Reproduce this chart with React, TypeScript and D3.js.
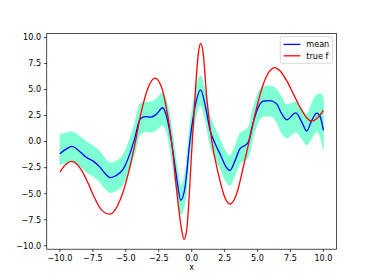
import { useMemo } from "react"
import * as d3 from "d3"

const gridX = [
  -10, -9.5, -9.1, -8.5, -8, -7.5, -7, -6.5, -6.2, -5.8, -5.2, -4.7, -4.3, -3.9, -3.5, -3.1, -2.7,
  -2.2, -1.9, -1.5, -1.15, -0.83, -0.5, -0.13, 0.25, 0.68, 1.0, 1.4, 1.8, 2.2, 2.55, 2.9, 3.3,
  3.67, 4.05, 4.3, 4.68, 5.06, 5.44, 5.95, 6.45, 6.8, 7.21, 7.9, 8.35, 8.73, 9.1, 9.5, 9.75, 10,
]
const meanY = [
  -1.16, -0.7, -0.46, -0.95, -1.5, -1.85, -2.4, -3.15, -3.46, -3.3, -2.65, -1.2, 0.43, 2.2, 2.4,
  2.35, 2.6, 3.25, 2.4, -0.3, -3.4, -5.63, -4.35, 0.11, 3.3, 4.96, 3.65, 1.07, -0.25, -1.3, -2.3,
  -2.76, -1.8, -0.68, -0.36, -0.05, 1.87, 3.3, 3.88, 3.94, 3.62, 2.75, 2.1, 2.75, 1.9, 1.0, 2.0,
  2.73, 2.4, 1.07,
]
const upperY = [
  0.65, 0.85, 0.95, 0.5, 0.0, -0.4, -0.9, -1.7, -2.05, -1.9, -1.25, 0.25, 1.9, 3.65, 3.8, 3.8,
  4.1, 4.7, 3.9, 1.2, -2.0, -4.2, -2.95, 1.5, 4.7, 6.3, 5.05, 2.5, 1.2, 0.1, -0.9, -1.35, -0.4,
  0.8, 1.1, 1.4, 3.3, 4.75, 5.3, 5.35, 5.0, 4.3, 3.55, 3.8, 3.2, 2.6, 3.6, 4.5, 4.6, 4.2,
]
const lowerY = [
  -2.2, -2.0, -1.85, -2.35, -2.95, -3.3, -3.85, -4.6, -4.9, -4.75, -4.1, -2.7, -1.05, 0.7, 0.95,
  0.9, 1.1, 1.6, 0.9, -1.8, -4.85, -7.0, -5.75, -1.3, 1.9, 3.5, 2.25, -0.35, -1.7, -2.7, -3.7,
  -4.2, -3.2, -2.1, -1.8, -1.5, 0.45, 1.85, 2.45, 2.45, 1.85, 0.9, 0.35, 0.9, 0.3, -0.3, 0.3,
  1.0, 0.5, -0.7,
]

// true function
const trueX = [
  -10, -9.6, -9.11, -8.35, -7.85, -7.34, -6.83, -6.2, -5.44, -4.81, -4.3, -3.8, -3.3, -2.79,
  -2.28, -2.03, -1.55, -1.14, -0.76, -0.58, -0.38, 0.0, 0.25, 0.5, 0.68, 0.88, 1.14, 1.52, 2.02,
  2.53, 2.91, 3.42, 3.92, 4.43, 4.94, 5.44, 5.95, 6.3, 6.7, 7.21, 7.72, 8.22, 8.73, 9.1, 9.48, 10,
]
const trueY = [
  -2.92, -2.25, -1.9, -2.76, -4.03, -5.47, -6.58, -6.97, -5.63, -3.07, -0.2, 2.99, 5.2, 6.1, 5.2,
  3.94, 0.3, -4.67, -8.5, -9.39, -8.5, -1.0, 4.26, 8.4, 9.43, 8.4, 4.26, 0.11, -3.07, -5.4, -6.0,
  -4.99, -2.44, 0.43, 3.3, 5.54, 6.81, 7.1, 6.81, 5.86, 4.58, 3.3, 2.29, 1.96, 2.19, 2.99,
]

const xTicks = [-10, -7.5, -5, -2.5, 0, 2.5, 5, 7.5, 10]
const yTicks = [-10, -7.5, -5, -2.5, 0, 2.5, 5, 7.5, 10]

const W = 374
const H = 280
const left = 46.75
const right = 336.6
const top = 33.6
const bottom = 249.2
const font = "DejaVu Sans, sans-serif"
const fs = 8.1

export default function App() {
  const { x, y, bandPath, meanPath, truePath } = useMemo(() => {
    // matplotlib style 5% margins
    const xs = d3.extent([...gridX, ...trueX]) as [number, number]
    const ys = d3.extent([...upperY, ...lowerY, ...trueY]) as [number, number]
    const px = (xs[1] - xs[0]) * 0.05
    const py = (ys[1] - ys[0]) * 0.05
    const x = d3.scaleLinear().domain([xs[0] - px, xs[1] + px]).range([left, right])
    const y = d3.scaleLinear().domain([ys[0] - py, ys[1] + py]).range([bottom, top])

    const band = d3
      .area<number>()
      .x((i) => x(gridX[i]))
      .y0((i) => y(lowerY[i]))
      .y1((i) => y(upperY[i]))
      .curve(d3.curveMonotoneX)
    const line = d3
      .line<[number, number]>()
      .x((d) => x(d[0]))
      .y((d) => y(d[1]))
      .curve(d3.curveMonotoneX)

    return {
      x,
      y,
      bandPath: band(d3.range(gridX.length)) ?? "",
      meanPath: line(gridX.map((v, i) => [v, meanY[i]])) ?? "",
      truePath: line(trueX.map((v, i) => [v, trueY[i]])) ?? "",
    }
  }, [])

  const fmt = d3.format(".1f")

  return (
    <svg
      width={W}
      height={H}
      style={{ position: "absolute", left: 0, top: 0, background: "#fff" }}
      fontFamily={font}
      fontSize={fs}
    >
      <rect x={0} y={0} width={W} height={H} fill="#fff" />
      <defs>
        <clipPath id="plot-area">
          <rect x={left} y={top} width={right - left} height={bottom - top} />
        </clipPath>
      </defs>

      <g clipPath="url(#plot-area)">
        <path d={bandPath} fill="#7fffd4" stroke="#7fffd4" strokeWidth={0.8} />
        <path d={meanPath} fill="none" stroke="#0000ff" strokeWidth={1.3} />
        <path d={truePath} fill="none" stroke="#ff0000" strokeWidth={1.3} />
      </g>

      {/* spines */}
      <rect
        x={left}
        y={top}
        width={right - left}
        height={bottom - top}
        fill="none"
        stroke="#000"
        strokeWidth={0.7}
      />

      {/* x axis */}
      {xTicks.map((t) => (
        <g key={"x" + t}>
          <line x1={x(t)} x2={x(t)} y1={bottom} y2={bottom + 2.8} stroke="#000" strokeWidth={0.7} />
          <text x={x(t)} y={bottom + 5.6} dy="0.76em" textAnchor="middle" fill="#000">
            {fmt(t)}
          </text>
        </g>
      ))}
      <text x={(left + right) / 2} y={264} dy="0.76em" textAnchor="middle" fill="#000">
        x
      </text>

      {/* y axis */}
      {yTicks.map((t) => (
        <g key={"y" + t}>
          <line x1={left - 2.8} x2={left} y1={y(t)} y2={y(t)} stroke="#000" strokeWidth={0.7} />
          <text x={left - 5.6} y={y(t)} dy="0.35em" textAnchor="end" fill="#000">
            {fmt(t)}
          </text>
        </g>
      ))}

      {/* legend */}
      <g>
        <rect
          x={280.3}
          y={36.7}
          width={52.4}
          height={26.6}
          rx={1.6}
          fill="#fff"
          fillOpacity={0.8}
          stroke="#cccccc"
          strokeWidth={0.7}
        />
        <line x1={283.6} x2={300.4} y1={44.4} y2={44.4} stroke="#0000ff" strokeWidth={1.3} />
        <text x={306.3} y={44.4} dy="0.35em" fill="#000">
          mean
        </text>
        <line x1={283.6} x2={300.4} y1={55.8} y2={55.8} stroke="#ff0000" strokeWidth={1.3} />
        <text x={306.3} y={55.8} dy="0.35em" fill="#000">
          true f
        </text>
      </g>
    </svg>
  )
}
